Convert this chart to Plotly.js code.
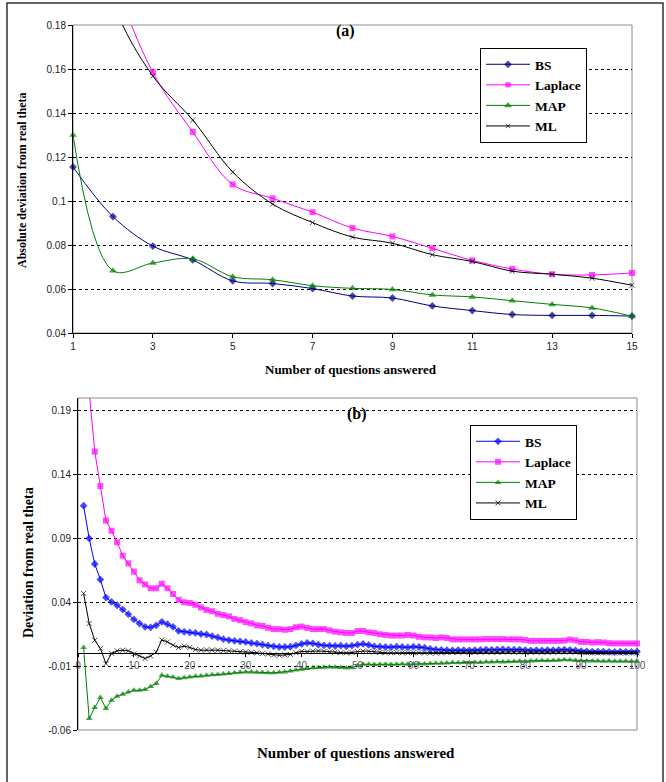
<!DOCTYPE html>
<html>
<head>
<meta charset="utf-8">
<script src="https://cdn.plot.ly/plotly-3.0.1.min.js"></script>
<style>
  html, body { margin: 0; padding: 0; background: #fff; }
  #chart { width: 666px; height: 782px; }
</style>
</head>
<body>
<div id="chart"></div>
<script>
// ---------- Panel (a) data ----------
const topX = [1, 2, 3, 4, 5, 6, 7, 8, 9, 10, 11, 12, 13, 14, 15];
const topBS      = [0.1155, 0.0929, 0.0795, 0.0732, 0.0637, 0.0625, 0.0602, 0.0568, 0.0559, 0.0523, 0.0502, 0.0484, 0.0480, 0.0480, 0.0477];
const topLaplace = [0.300, 0.205, 0.1585, 0.1314, 0.1075, 0.1012, 0.0949, 0.0877, 0.0839, 0.0785, 0.0730, 0.0691, 0.0667, 0.0664, 0.0673];
const topMAP     = [0.1300, 0.0683, 0.0718, 0.0737, 0.0656, 0.0642, 0.0615, 0.0603, 0.0598, 0.0573, 0.0564, 0.0547, 0.0530, 0.0514, 0.0476];
const topML      = [0.260, 0.190, 0.1568, 0.1368, 0.1132, 0.0986, 0.0902, 0.0836, 0.0808, 0.0756, 0.0725, 0.0681, 0.0667, 0.0649, 0.0617];
const topXTicks = [1, 3, 5, 7, 9, 11, 13, 15];
const topYTicks = [0.04, 0.06, 0.08, 0.1, 0.12, 0.14, 0.16, 0.18];
const topYTickText = ['0.04', '0.06', '0.08', '0.1', '0.12', '0.14', '0.16', '0.18'];

// ---------- Panel (b) data (questions 1..100) ----------
const botBS = [
  0.1157, 0.0900, 0.0700, 0.0578, 0.0437, 0.0403, 0.0377, 0.0343, 0.0307, 0.0266,
  0.0234, 0.0208, 0.0203, 0.0220, 0.0247, 0.0229, 0.0208, 0.0176, 0.0169, 0.0164,
  0.0160, 0.0152, 0.0148, 0.0135, 0.0125, 0.0111, 0.0104, 0.0098, 0.0094, 0.0090,
  0.0082, 0.0076, 0.0068, 0.0060, 0.0055, 0.0050, 0.0050, 0.0052, 0.0062, 0.0074,
  0.0082, 0.0078, 0.0068, 0.0062, 0.0060, 0.0058, 0.0060, 0.0056, 0.0060, 0.0068,
  0.0074, 0.0066, 0.0055, 0.0052, 0.0050, 0.0048, 0.0052, 0.0050, 0.0047, 0.0052,
  0.0050, 0.0044, 0.0036, 0.0030, 0.0028, 0.0025, 0.0024, 0.0026, 0.0025, 0.0024,
  0.0026, 0.0027, 0.0030, 0.0028, 0.0030, 0.0032, 0.0030, 0.0029, 0.0030, 0.0026,
  0.0024, 0.0025, 0.0024, 0.0026, 0.0025, 0.0027, 0.0030, 0.0028, 0.0024, 0.0018,
  0.0016, 0.0014, 0.0013, 0.0013, 0.0012, 0.0011, 0.0013, 0.0012, 0.0012, 0.0013
];
const botLaplace = [
  0.2900, 0.2050, 0.1580, 0.1310, 0.1040, 0.0960, 0.0870, 0.0765, 0.0705, 0.0640,
  0.0572, 0.0540, 0.0510, 0.0510, 0.0545, 0.0510, 0.0465, 0.0420, 0.0400, 0.0395,
  0.0380, 0.0360, 0.0340, 0.0330, 0.0310, 0.0300, 0.0290, 0.0270, 0.0260, 0.0245,
  0.0235, 0.0220, 0.0215, 0.0200, 0.0190, 0.0190, 0.0185, 0.0190, 0.0205, 0.0210,
  0.0200, 0.0190, 0.0190, 0.0190, 0.0180, 0.0170, 0.0165, 0.0160, 0.0160, 0.0175,
  0.0175, 0.0165, 0.0160, 0.0150, 0.0145, 0.0140, 0.0140, 0.0140, 0.0145, 0.0140,
  0.0130, 0.0125, 0.0125, 0.0120, 0.0125, 0.0120, 0.0110, 0.0110, 0.0110, 0.0110,
  0.0110, 0.0110, 0.0112, 0.0112, 0.0112, 0.0112, 0.0110, 0.0110, 0.0110, 0.0105,
  0.0098, 0.0098, 0.0098, 0.0098, 0.0098, 0.0098, 0.0100, 0.0108, 0.0102, 0.0090,
  0.0090, 0.0085, 0.0088, 0.0085, 0.0080, 0.0078, 0.0078, 0.0078, 0.0078, 0.0078
];
const botMAP = [
  0.0046, -0.0510, -0.0424, -0.0346, -0.0432, -0.0367, -0.0336, -0.0320, -0.0302, -0.0289,
  -0.0289, -0.0283, -0.0260, -0.0236, -0.0171, -0.0179, -0.0184, -0.0197, -0.0190, -0.0184,
  -0.0180, -0.0178, -0.0172, -0.0168, -0.0165, -0.0162, -0.0158, -0.0152, -0.0148, -0.0145,
  -0.0146, -0.0148, -0.0150, -0.0152, -0.0152, -0.0148, -0.0145, -0.0138, -0.0130, -0.0125,
  -0.0118, -0.0112, -0.0110, -0.0108, -0.0106, -0.0108, -0.0110, -0.0115, -0.0112, -0.0095,
  -0.0085, -0.0086, -0.0088, -0.0086, -0.0085, -0.0088, -0.0086, -0.0084, -0.0086, -0.0084,
  -0.0082, -0.0083, -0.0080, -0.0078, -0.0077, -0.0075, -0.0072, -0.0074, -0.0072, -0.0073,
  -0.0070, -0.0071, -0.0068, -0.0067, -0.0066, -0.0068, -0.0065, -0.0063, -0.0062, -0.0064,
  -0.0060, -0.0058, -0.0056, -0.0057, -0.0055, -0.0053, -0.0050, -0.0052, -0.0055, -0.0058,
  -0.0060, -0.0059, -0.0060, -0.0061, -0.0060, -0.0061, -0.0062, -0.0061, -0.0062, -0.0062
];
const botML = [
  0.0470, 0.0234, 0.0103, 0.0038, -0.0080, 0.0000, 0.0020, 0.0025, 0.0020, -0.0003,
  -0.0020, -0.0040, -0.0020, 0.0010, 0.0106, 0.0090, 0.0064, 0.0046, 0.0057, 0.0046,
  0.0030, 0.0025, 0.0027, 0.0026, 0.0025, 0.0022, 0.0020, 0.0018, 0.0012, 0.0012,
  0.0008, 0.0004, 0.0000, -0.0006, -0.0012, -0.0015, -0.0012, -0.0008, 0.0005, 0.0016,
  0.0014, 0.0018, 0.0019, 0.0016, 0.0012, 0.0010, 0.0006, 0.0004, 0.0008, 0.0015,
  0.0018, 0.0017, 0.0012, 0.0008, 0.0005, 0.0004, 0.0006, 0.0005, 0.0004, 0.0006,
  0.0005, 0.0004, 0.0003, 0.0002, 0.0004, 0.0006, 0.0008, 0.0009, 0.0010, 0.0008,
  0.0009, 0.0010, 0.0011, 0.0010, 0.0009, 0.0011, 0.0012, 0.0011, 0.0013, 0.0010,
  0.0009, 0.0010, 0.0008, 0.0009, 0.0010, 0.0012, 0.0014, 0.0012, 0.0010, 0.0008,
  0.0006, 0.0005, 0.0004, 0.0004, 0.0005, 0.0004, 0.0003, 0.0004, 0.0005, 0.0004
];
const botXTicks = [0, 10, 20, 30, 40, 50, 60, 70, 80, 90, 100];
const botYTicks = [-0.06, -0.01, 0.04, 0.09, 0.14, 0.19];
const botYTickText = ['-0.06', '-0.01', '0.04', '0.09', '0.14', '0.19'];

// ---------- geometry (pixels of the 666x782 page) ----------
const W = 666, H = 782;
const px = v => v / W;
const py = v => 1 - v / H;
const topRangeY = [0.04, 0.18];
const botRangeY = [-0.06, 0.20];
const botX = botBS.map((_, i) => i + 1);

const topDomX = [px(73), px(632)], topDomY = [py(333), py(25)];
const botDomX = [px(78), px(637)], botDomY = [py(730), py(398)];
const zeroPos = botDomY[0] + (0 - botRangeY[0]) / (botRangeY[1] - botRangeY[0]) * (botDomY[1] - botDomY[0]);

const serif = 'Liberation Serif, Times New Roman, serif';
const sans = 'Liberation Sans, Arial, sans-serif';

function sizes(arr, range, s) { return arr.map(v => (v > range[1] || v < range[0]) ? 0 : s); }

function trace(x, y, name, color, symbol, size, xa, ya, range, shape, legend) {
  const isX = symbol.indexOf('x') === 0;
  return {
    x: x, y: y, name: name, type: 'scatter', mode: 'lines+markers',
    xaxis: xa, yaxis: ya, legend: legend, showlegend: true,
    cliponaxis: false,
    line: { color: color, width: 1, shape: shape, smoothing: 1 },
    marker: {
      symbol: symbol, color: color, size: sizes(y, range, size),
      line: { color: color, width: isX ? 1 : 0 }
    },
    hoverinfo: 'x+y'
  };
}

const data = [
  trace(topX, topBS, 'BS', '#000080', 'diamond', 6, 'x', 'y', topRangeY, 'spline', 'legend'),
  trace(topX, topLaplace, 'Laplace', '#FF00FF', 'square', 6, 'x', 'y', topRangeY, 'spline', 'legend'),
  trace(topX, topMAP, 'MAP', '#008000', 'triangle-up', 7, 'x', 'y', topRangeY, 'spline', 'legend'),
  trace(topX, topML, 'ML', '#000000', 'x-thin-open', 5, 'x', 'y', topRangeY, 'spline', 'legend'),
  trace(botX, botBS, 'BS', '#0000FF', 'diamond', 6, 'x2', 'y2', botRangeY, 'linear', 'legend2'),
  trace(botX, botLaplace, 'Laplace', '#FF00FF', 'square', 6, 'x2', 'y2', botRangeY, 'linear', 'legend2'),
  trace(botX, botMAP, 'MAP', '#008000', 'triangle-up', 6, 'x2', 'y2', botRangeY, 'linear', 'legend2'),
  trace(botX, botML, 'ML', '#000000', 'x-thin-open', 5, 'x2', 'y2', botRangeY, 'linear', 'legend2')
];

const tickFont = { family: sans, size: 10, color: '#222' };
const legendFont = { family: serif, size: 13.5, color: '#000', weight: 'bold' };

const layout = {
  width: W, height: H,
  margin: { l: 0, r: 0, t: 0, b: 0 },
  paper_bgcolor: '#fff', plot_bgcolor: '#fff',
  xaxis: {
    domain: topDomX, anchor: 'y', range: [1, 15],
    tickmode: 'array', tickvals: topXTicks, ticktext: topXTicks.map(String),
    showgrid: false, zeroline: false,
    showline: true, linecolor: '#000', linewidth: 1,
    ticks: 'outside', ticklen: 4, tickcolor: '#000', tickfont: tickFont
  },
  yaxis: {
    domain: topDomY, anchor: 'x', range: topRangeY,
    tickmode: 'array', tickvals: topYTicks, ticktext: topYTickText,
    showgrid: true, gridcolor: '#000', gridwidth: 1, griddash: '3px,3px',
    zeroline: false, showline: true, linecolor: '#000', linewidth: 1,
    ticks: 'outside', ticklen: 4, tickcolor: '#000', tickfont: tickFont
  },
  xaxis2: {
    domain: botDomX, anchor: 'free', position: zeroPos, range: [0, 100],
    tickmode: 'array', tickvals: botXTicks, ticktext: botXTicks.map(String),
    showgrid: false, zeroline: false,
    showline: true, linecolor: '#000', linewidth: 1,
    ticks: 'outside', ticklen: 3, tickcolor: '#000', tickfont: { family: sans, size: 10, color: '#556' }
  },
  yaxis2: {
    domain: botDomY, anchor: 'x2', range: botRangeY,
    tickmode: 'array', tickvals: botYTicks, ticktext: botYTickText,
    showgrid: true, gridcolor: '#000', gridwidth: 1, griddash: '3px,3px',
    zeroline: false, showline: true, linecolor: '#000', linewidth: 1,
    ticks: 'outside', ticklen: 4, tickcolor: '#000', tickfont: tickFont
  },
  legend: {
    x: px(480), y: py(48), xanchor: 'left', yanchor: 'top',
    bgcolor: '#fff', bordercolor: '#000', borderwidth: 1,
    font: legendFont, itemwidth: 44, tracegroupgap: 0
  },
  legend2: {
    x: px(470), y: py(425), xanchor: 'left', yanchor: 'top',
    bgcolor: '#fff', bordercolor: '#000', borderwidth: 1,
    font: legendFont, itemwidth: 44, tracegroupgap: 0
  },
  shapes: [
    { type: 'rect', xref: 'x domain', yref: 'y domain', x0: 0, x1: 1, y0: 0, y1: 1,
      line: { color: '#8c8c8c', width: 1 }, layer: 'below' },
    { type: 'rect', xref: 'x2 domain', yref: 'y2 domain', x0: 0, x1: 1, y0: 0, y1: 1,
      line: { color: '#8c8c8c', width: 1 }, layer: 'below' },
    { type: 'rect', xref: 'paper', yref: 'paper', x0: px(7), x1: px(663), y0: py(790), y1: py(3),
      line: { color: '#333', width: 1.5 }, layer: 'below' }
  ],
  annotations: [
    { text: '<b>(a)</b>', xref: 'paper', yref: 'paper', x: px(346), y: py(31), xanchor: 'center', yanchor: 'middle', showarrow: false,
      font: { family: serif, size: 16, color: '#000' } },
    { text: '<b>(b)</b>', xref: 'paper', yref: 'paper', x: px(357), y: py(414), xanchor: 'center', yanchor: 'middle', showarrow: false,
      font: { family: serif, size: 16, color: '#000' } },
    { text: '<b>Number of questions answered</b>', xref: 'paper', yref: 'paper', x: px(351), y: py(369), xanchor: 'center', yanchor: 'middle', showarrow: false,
      font: { family: serif, size: 13, color: '#000' } },
    { text: '<b>Absolute deviation from real theta</b>', xref: 'paper', yref: 'paper', x: px(22), y: py(180), xanchor: 'center', yanchor: 'middle', showarrow: false,
      textangle: -90, font: { family: serif, size: 12, color: '#000' } },
    { text: '<b>Number of questions answered</b>', xref: 'paper', yref: 'paper', x: px(356), y: py(753), xanchor: 'center', yanchor: 'middle', showarrow: false,
      font: { family: serif, size: 15, color: '#000' } },
    { text: '<b>Deviation from real theta</b>', xref: 'paper', yref: 'paper', x: px(28), y: py(563), xanchor: 'center', yanchor: 'middle', showarrow: false,
      textangle: -90, font: { family: serif, size: 14, color: '#000' } }
  ]
};

Plotly.newPlot('chart', data, layout, { staticPlot: true, displayModeBar: false });
</script>
</body>
</html>
